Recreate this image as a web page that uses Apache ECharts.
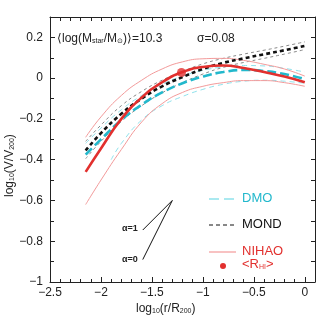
<!DOCTYPE html>
<html>
<head>
<meta charset="utf-8">
<script src="https://cdn.jsdelivr.net/npm/echarts@6/dist/echarts.min.js"></script>
<style>
  html, body { margin: 0; padding: 0; background: #fff; }
  #chart { width: 332px; height: 332px; }
</style>
</head>
<body>
<div id="chart"></div>
<script>
// radius grid, log10(r/R200)
const xs = [-2.15, -2.0, -1.8, -1.6, -1.4, -1.2, -1.0, -0.8, -0.6, -0.4, -0.2, 0.0];
// lower DMO band starts later
const xsDmoLow = [-1.9, -1.8, -1.6, -1.4, -1.2, -1.0, -0.8, -0.6, -0.4, -0.2, 0.0];

// log10(V/V200) curves
const dmoMain = [-0.375, -0.30, -0.205, -0.13, -0.07, -0.025, 0.008, 0.03, 0.04, 0.035, 0.02, -0.005];
const dmoUp   = [-0.32, -0.245, -0.155, -0.085, -0.03, 0.01, 0.038, 0.055, 0.062, 0.06, 0.048, 0.03];
const dmoLow  = [-0.40, -0.32, -0.205, -0.135, -0.09, -0.055, -0.03, -0.015, -0.01, -0.015, -0.025];

const mondMain = [-0.355, -0.27, -0.175, -0.10, -0.04, 0.005, 0.045, 0.075, 0.097, 0.117, 0.137, 0.158];
const mondUp   = [-0.31, -0.23, -0.135, -0.065, -0.01, 0.033, 0.07, 0.097, 0.118, 0.137, 0.157, 0.178];
const mondLow  = [-0.395, -0.31, -0.212, -0.135, -0.072, -0.022, 0.02, 0.053, 0.077, 0.097, 0.118, 0.14];

const nihaoMain = [-0.46, -0.345, -0.2, -0.095, -0.02, 0.03, 0.055, 0.062, 0.05, 0.03, 0.008, -0.02];
const nihaoUp   = [-0.29, -0.19, -0.085, -0.01, 0.045, 0.08, 0.095, 0.097, 0.087, 0.068, 0.045, 0.01];
const nihaoLow  = [-0.62, -0.50, -0.35, -0.215, -0.125, -0.07, -0.04, -0.022, -0.012, -0.012, -0.022, -0.04];

// mean HI radius marker
const rHi = [[-1.21, 0.028]];

// slope guides
const alpha1 = [[-1.59, -0.745], [-1.30, -0.60]];
const alpha0 = [[-1.59, -0.89], [-1.30, -0.60]];

const FONT = 'Liberation Sans, Arial, sans-serif';
const CYAN = '#22b8cc';
const CYAN_LT = '#8fe2ec';
const RED = '#e2302e';
const PINK = '#f39a9a';
const GRAY = '#8a8a8a';

function pairs(x, y) {
  return x.map((v, i) => [v, y[i]]);
}

function fmt(v) {
  let r = Math.round(v * 10) / 10;
  if (r === 0) return '0';
  return String(r).replace('-', '\u2212');
}

function line(data, color, width, type) {
  return {
    type: 'line',
    data: data,
    smooth: true,
    symbol: 'none',
    lineStyle: { color: color, width: width, type: type },
    silent: true,
    z: width > 1.5 ? 3 : 2
  };
}

const axisLine = { show: true, onZero: false, lineStyle: { color: '#222', width: 1 } };
const sub = (c) => ({ fontSize: 7, fontFamily: FONT, fill: c, verticalAlign: 'bottom', lineHeight: 6, padding: [6, 0, 0, 0] });

const chart = echarts.init(document.getElementById('chart'));

const option = {
  animation: false,
  backgroundColor: '#fff',
  grid: { left: 50, right: 17, top: 17, bottom: 50 },
  xAxis: [
    {
      type: 'value', min: -2.5, max: 0.1, interval: 0.5,
      axisLine: axisLine,
      axisTick: { inside: true, length: 5, lineStyle: { color: '#222' } },
      minorTick: { show: true, splitNumber: 5, length: 3, lineStyle: { color: '#222' } },
      axisLabel: { formatter: fmt, showMaxLabel: false, color: '#222', fontSize: 12, fontFamily: FONT, margin: 5 },
      splitLine: { show: false }
    },
    {
      type: 'value', position: 'top', min: -2.5, max: 0.1, interval: 0.1,
      axisLine: axisLine,
      axisTick: { inside: true, length: 4, lineStyle: { color: '#222' } },
      axisLabel: { show: false },
      splitLine: { show: false }
    }
  ],
  yAxis: [
    {
      type: 'value', min: -1, max: 0.3, interval: 0.2,
      axisLine: axisLine,
      axisTick: { inside: true, length: 5, lineStyle: { color: '#222' } },
      minorTick: { show: true, splitNumber: 2, length: 4, lineStyle: { color: '#222' } },
      axisLabel: { formatter: fmt, showMaxLabel: false, color: '#222', fontSize: 12, fontFamily: FONT, margin: 7 },
      splitLine: { show: false }
    },
    {
      type: 'value', position: 'right', min: -1, max: 0.3, interval: 0.1,
      axisLine: axisLine,
      axisTick: { inside: true, length: 4, lineStyle: { color: '#222' } },
      axisLabel: { show: false },
      splitLine: { show: false }
    }
  ],
  series: [
    line(pairs(xs, dmoUp), CYAN_LT, 1, [5, 4]),
    line(pairs(xsDmoLow, dmoLow), CYAN_LT, 1, [5, 4]),
    line(pairs(xs, mondUp), GRAY, 1, [3, 3]),
    line(pairs(xs, mondLow), GRAY, 1, [3, 3]),
    line(pairs(xs, nihaoUp), PINK, 1, 'solid'),
    line(pairs(xs, nihaoLow), PINK, 1, 'solid'),
    line(pairs(xs, dmoMain), CYAN, 2.6, [9, 4]),
    line(pairs(xs, mondMain), '#111', 2.6, [4, 3]),
    line(pairs(xs, nihaoMain), RED, 2.6, 'solid'),
    {
      type: 'line', data: alpha1, symbol: 'none', silent: true,
      lineStyle: { color: '#111', width: 1 }
    },
    {
      type: 'line', data: alpha0, symbol: 'none', silent: true,
      lineStyle: { color: '#111', width: 1 }
    },
    {
      type: 'scatter', data: rHi, symbolSize: 9, silent: true,
      itemStyle: { color: RED }, z: 5
    }
  ],
  graphic: [
    // top annotation
    {
      type: 'text', left: 57, top: 32,
      style: {
        text: '\u27e8log(M{sub|star}/M{sub|\u2299})\u27e9=10.3',
        font: '12px ' + FONT, fill: '#222',
        rich: { sub: sub('#222') }
      }
    },
    {
      type: 'text', left: 197, top: 33,
      style: { text: '\u03c3=0.08', font: '12px ' + FONT, fill: '#222' }
    },
    // slope labels
    { type: 'text', left: 122, top: 224, style: { text: '\u03b1=1', font: 'bold 9px ' + FONT, fill: '#222' } },
    { type: 'text', left: 122, top: 255, style: { text: '\u03b1=0', font: 'bold 9px ' + FONT, fill: '#222' } },
    // legend
    { type: 'line', shape: { x1: 209, y1: 199, x2: 236, y2: 199 }, style: { stroke: CYAN_LT, lineWidth: 1.5, lineDash: [10, 5] } },
    { type: 'text', left: 242, top: 192, style: { text: 'DMO', font: '13px ' + FONT, fill: CYAN } },
    { type: 'line', shape: { x1: 209, y1: 225, x2: 236, y2: 225 }, style: { stroke: '#111', lineWidth: 1, lineDash: [4, 3] } },
    { type: 'text', left: 242, top: 218, style: { text: 'MOND', font: '13px ' + FONT, fill: '#111' } },
    { type: 'line', shape: { x1: 209, y1: 252, x2: 236, y2: 252 }, style: { stroke: PINK, lineWidth: 1.2 } },
    { type: 'text', left: 242, top: 245, style: { text: 'NIHAO', font: '13px ' + FONT, fill: RED } },
    { type: 'circle', shape: { cx: 223, cy: 266, r: 3 }, style: { fill: RED } },
    {
      type: 'text', left: 242, top: 258,
      style: { text: '<R{sub|HI}>', font: '13px ' + FONT, fill: RED, rich: { sub: sub(RED) } }
    },
    // axis titles
    {
      type: 'text', left: 136, top: 302,
      style: { text: 'log{sub|10}(r/R{sub|200})', font: '12px ' + FONT, fill: '#222', rich: { sub: sub('#222') } }
    },
    {
      type: 'text', x: 4, y: 197, rotation: Math.PI / 2,
      style: { text: 'log{sub|10}(V/V{sub|200})', font: '12px ' + FONT, fill: '#222', rich: { sub: sub('#222') } }
    }
  ]
};

chart.setOption(option);
</script>
</body>
</html>
